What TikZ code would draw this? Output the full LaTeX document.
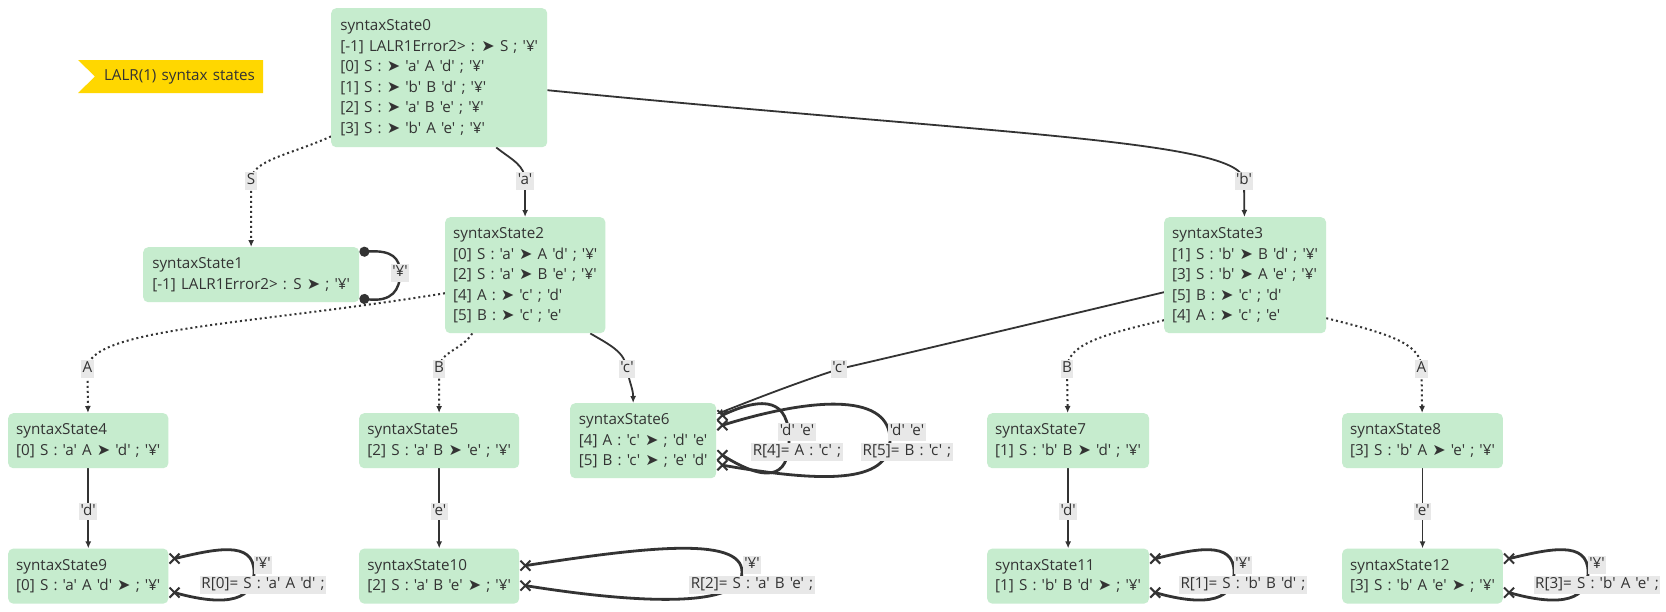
\documentclass[tikz,border=0pt]{standalone}
\usepackage{fontspec}
\usepackage{xcolor}
\usepackage{tikz}
\usetikzlibrary{arrows.meta,positioning,shapes.misc,calc,backgrounds}
\newfontfamily\stfam{Open Sans}[WordSpace=1.3]
\newfontfamily\symfam{DejaVu Sans}[Scale=1.05]
\newcommand{\stfont}{\stfam\fontsize{15.2pt}{20.5pt}\selectfont}
\newcommand{\mk}{{\symfam ➤}}
\definecolor{stgreen}{HTML}{C6ECCE}
\definecolor{ink}{HTML}{333333}
\definecolor{lblgray}{HTML}{E8E8E8}
\definecolor{flaggold}{HTML}{FFD700}
\tikzset{
  stbox/.style={rectangle, rounded corners=5pt, fill=stgreen, text=ink,
    font=\stfont, align=left, anchor=north west,
    minimum width=#1, minimum height=55pt, inner xsep=8pt, inner ysep=0pt},
  stbox/.default=160pt,
  lbl/.style={rectangle, fill=lblgray, text=ink, font=\stfont,
    inner xsep=1.5pt, inner ysep=2pt, text height=10.5pt, text depth=3pt},
  shiftarrow/.style={->, draw=ink, line width=1.8pt},
  gotoarrow/.style={->, draw=ink, line width=2pt, dash pattern=on 2pt off 3pt},
  reduceloop/.style={draw=ink, line width=2.8pt},
  acceptloop/.style={{Circle[length=10pt]}-{Circle[length=10pt]}, draw=ink, line width=2.4pt},
  xmark/.style={cross out, draw=ink, line width=2pt, minimum size=8pt, inner sep=0pt},
}

\begin{document}
\begin{tikzpicture}[x=1pt, y=-1pt, >={Latex[length=7pt,width=6pt]}]
    \useasboundingbox (0,0) rectangle (1666,611);
    \node[text=ink, font=\stfont, inner sep=0pt] (title) at (179.5,76.5) {LALR(1) syntax states};
    % states
    \node[stbox=216pt, minimum height=139pt] (st0) at (331,8) {syntaxState0\\{}[-1] LALR1Error2> : \mk{} S ; '¥'\\{}[0] S : \mk{} 'a' A 'd' ; '¥'\\{}[1] S : \mk{} 'b' B 'd' ; '¥'\\{}[2] S : \mk{} 'a' B 'e' ; '¥'\\{}[3] S : \mk{} 'b' A 'e' ; '¥'};
    \node[stbox=216pt] (st1) at (143,247) {syntaxState1\\{}[-1] LALR1Error2> : S \mk{} ; '¥'};
    \node[stbox=160pt, minimum height=116pt] (st2) at (445,217) {syntaxState2\\{}[0] S : 'a' \mk{} A 'd' ; '¥'\\{}[2] S : 'a' \mk{} B 'e' ; '¥'\\{}[4] A : \mk{} 'c' ; 'd'\\{}[5] B : \mk{} 'c' ; 'e'};
    \node[stbox=161pt, minimum height=116pt] (st3) at (1164,217) {syntaxState3\\{}[1] S : 'b' \mk{} B 'd' ; '¥'\\{}[3] S : 'b' \mk{} A 'e' ; '¥'\\{}[5] B : \mk{} 'c' ; 'd'\\{}[4] A : \mk{} 'c' ; 'e'};
    \node[stbox=159pt] (st4) at (8,413) {syntaxState4\\{}[0] S : 'a' A \mk{} 'd' ; '¥'};
    \node[stbox=160pt] (st5) at (359,413) {syntaxState5\\{}[2] S : 'a' B \mk{} 'e' ; '¥'};
    \node[stbox=146pt, minimum height=75pt] (st6) at (570,403) {syntaxState6\\{}[4] A : 'c' \mk{} ; 'd' 'e'\\{}[5] B : 'c' \mk{} ; 'e' 'd'};
    \node[stbox=160pt] (st7) at (987,413) {syntaxState7\\{}[1] S : 'b' B \mk{} 'd' ; '¥'};
    \node[stbox=159pt] (st8) at (1342,413) {syntaxState8\\{}[3] S : 'b' A \mk{} 'e' ; '¥'};
    \node[stbox=159pt, below=80pt of st4] (st9) {syntaxState9\\{}[0] S : 'a' A 'd' \mk{} ; '¥'};
    \node[stbox=160pt, below=80pt of st5] (st10) {syntaxState10\\{}[2] S : 'a' B 'e' \mk{} ; '¥'};
    \node[stbox=160pt, below=80pt of st7] (st11) {syntaxState11\\{}[1] S : 'b' B 'd' \mk{} ; '¥'};
    \node[stbox=159pt, below=80pt of st8] (st12) {syntaxState12\\{}[3] S : 'b' A 'e' \mk{} ; '¥'};
    % labels
    \node[lbl] (lS) at (251,181) {S};
    \node[lbl] (la) at (525,181) {'a'};
    \node[lbl] (lb) at (1244,181) {'b'};
    \node[lbl] (ly1) at (400,273) {'¥'};
    \node[lbl] (lA) at (87.5,369) {A};
    \node[lbl] (lB) at (439,369) {B};
    \node[lbl] (lc) at (627,369) {'c'};
    \node[lbl] (lc3) at (839,369) {'c'};
    \node[lbl] (lB3) at (1067,369) {B};
    \node[lbl] (lA3) at (1421.5,369) {A};
    \node[lbl] (l6a) at (797,432) {'d' 'e'};
    \node[lbl, below=2pt of l6a] (l6b) {R[4]= A : 'c' ;};
    \node[lbl] (l6c) at (907,432) {'d' 'e'};
    \node[lbl, below=2pt of l6c] (l6d) {R[5]= B : 'c' ;};
    \node[lbl] (l9a) at (263,565) {'¥'};
    \node[lbl, below=2pt of l9a] (l9b) {R[0]= S : 'a' A 'd' ;};
    \node[lbl] (l10a) at (752,565) {'¥'};
    \node[lbl, below=2pt of l10a] (l10b) {R[2]= S : 'a' B 'e' ;};
    \node[lbl] (l11a) at (1243,565) {'¥'};
    \node[lbl, below=2pt of l11a] (l11b) {R[1]= S : 'b' B 'd' ;};
    \node[lbl] (l12a) at (1597,565) {'¥'};
    \node[lbl, below=2pt of l12a] (l12b) {R[3]= S : 'b' A 'e' ;};
    \begin{scope}[on background layer]
      \fill[white] (0,0) rectangle (1666,611);
      \fill[flaggold] ($(title.center)+(-101.5,-16.5)$) -- ++(185,0) -- ++(0,33) -- ++(-185,0) -- ++(17,-16.5) -- cycle;
      \draw[gotoarrow] ([yshift=11pt]st0.south west) .. controls (290,155) and (251,160) .. (lS.center) -- (st1);
      \draw[shiftarrow] ([xshift=57pt]st0.south) .. controls (512,160) and (525,165) .. (la.center) -- (st2);
      \draw[shiftarrow] ([yshift=-12.5pt]st0.east) .. controls (1000,135) and (1244,140) .. (lb.center) -- (st3);
      \draw[acceptloop] ([yshift=-5pt]st1.north east) .. controls (392,250) and (400,258) .. (ly1.center) .. controls (400,290) and (392,302) .. ([yshift=4pt]st1.south east);
      \draw[gotoarrow] ([yshift=-18pt]st2.west) .. controls (250,325) and (87.5,328) .. (lA.center) -- (st4);
      \draw[gotoarrow] ([xshift=-53pt]st2.south) .. controls (462,350) and (439,352) .. (lB.center) -- (st5);
      \draw[shiftarrow] ([xshift=65pt]st2.south) .. controls (610,345) and (625,352) .. (lc.center) .. controls (630,385) and (633,388) .. ([xshift=-10pt]st6.north);
      \draw[shiftarrow] ([yshift=-17pt]st3.west) .. controls (1056,318) and (900,355) .. (lc3.center) .. controls (790,385) and (745,403) .. ([yshift=26.5pt]st6.east);
      \draw[gotoarrow] ([yshift=-45pt]st3.west) .. controls (1100,335) and (1067,345) .. (lB3.center) -- (st7);
      \draw[gotoarrow] ([yshift=-43pt]st3.east) .. controls (1395,335) and (1421.5,345) .. (lA3.center) -- (st8);
      \draw[shiftarrow] (st4) -- node[lbl, pos=0.54] (ld9) {'d'} (st9);
      \draw[shiftarrow] (st5) -- node[lbl, pos=0.54] (le10) {'e'} (st10);
      \draw[shiftarrow] (st7) -- node[lbl, pos=0.54] (ld11) {'d'} (st11);
      \draw[shiftarrow] (st8) -- node[lbl, pos=0.54] (le12) {'e'} (st12);
      % reduce loops
      \draw[reduceloop] ([xshift=6pt,yshift=25.5pt]st6.east) node[xmark] (x6a) {} .. controls (765,395) and (789,400) .. (789,440) .. controls (789,480) and (765,482) .. ([xshift=6pt,yshift=-14.5pt]st6.east) node[xmark] (x6b) {};
      \draw[reduceloop] ([xshift=6pt,yshift=15.5pt]st6.east) node[xmark] (x6c) {} .. controls (820,395) and (890,395) .. (890,440) .. controls (890,485) and (820,482) .. ([xshift=6pt,yshift=-24.5pt]st6.east) node[xmark] (x6d) {};
      \draw[reduceloop] ([xshift=6pt,yshift=17.5pt]st9.east) node[xmark] (x9a) {} .. controls (215,549) and (254,540) .. (254,572) .. controls (254,606) and (215,604) .. ([xshift=6pt,yshift=-16.5pt]st9.east) node[xmark] (x9b) {};
      \draw[reduceloop] ([xshift=6pt,yshift=10.5pt]st10.east) node[xmark] (x10a) {} .. controls (640,548) and (742,535) .. (742,572) .. controls (742,608) and (640,604) .. ([xshift=6pt,yshift=-9.5pt]st10.east) node[xmark] (x10b) {};
      \draw[reduceloop] ([xshift=6pt,yshift=17.5pt]st11.east) node[xmark] (x11a) {} .. controls (1195,549) and (1234,540) .. (1234,572) .. controls (1234,606) and (1195,604) .. ([xshift=6pt,yshift=-16.5pt]st11.east) node[xmark] (x11b) {};
      \draw[reduceloop] ([xshift=6pt,yshift=17.5pt]st12.east) node[xmark] (x12a) {} .. controls (1549,549) and (1588,540) .. (1588,572) .. controls (1588,606) and (1549,604) .. ([xshift=6pt,yshift=-16.5pt]st12.east) node[xmark] (x12b) {};
    \end{scope}
\end{tikzpicture}
\end{document}
